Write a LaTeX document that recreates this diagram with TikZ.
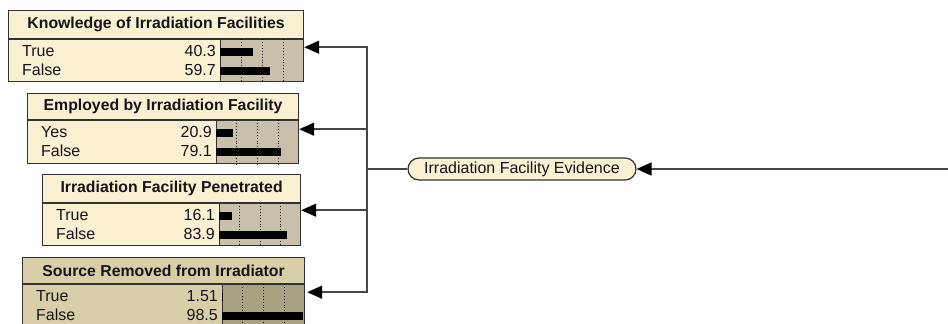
\documentclass[tikz,border=0pt]{standalone}
\usepackage{fontspec}
\setmainfont{Liberation Sans}
\usepackage{tikz}
\usepackage{xcolor}
\usetikzlibrary{arrows.meta,positioning,calc}

\definecolor{nodecream}{RGB}{250,240,210}
\definecolor{barbg}{RGB}{200,192,170}
\definecolor{findcream}{RGB}{216,207,168}
\definecolor{findbar}{RGB}{168,161,130}
\definecolor{boxline}{RGB}{50,50,50}
\definecolor{linkgray}{RGB}{70,70,70}
\definecolor{textdark}{RGB}{20,20,25}

\begin{document}
\begin{tikzpicture}[x=1pt, y=-1pt, >={Triangle[length=15pt,width=13pt,black]},
  ttl/.style={draw=boxline, line width=1.2pt, fill=nodecream, anchor=north west,
    inner sep=0pt, text=textdark, font=\fontsize{15.8}{18}\selectfont\bfseries},
  body/.style={draw=boxline, line width=1.2pt, fill=nodecream, anchor=north west,
    minimum height=42pt, inner sep=0pt},
  bars/.style={draw=boxline, line width=1.2pt, fill=barbg, anchor=north east,
    minimum height=42pt, inner sep=0pt},
  lbl/.style={anchor=west, inner sep=0pt, text height=11.5pt, text depth=0pt,
    text=textdark, font=\fontsize{16}{19}\selectfont},
  num/.style={lbl, anchor=east},
  grid/.style={dotted, line width=0.9pt, black},
  divider/.style={line width=2pt, boxline},
  link/.style={line width=1.5pt, linkgray},
  evid/.style={draw=boxline, line width=1.2pt, fill=nodecream, rounded corners=11pt,
    minimum width=228pt, minimum height=22pt, inner sep=0pt, text=textdark,
    font=\fontsize{16}{19}\selectfont}]

  \useasboundingbox (0,0) rectangle (948,324);
  \clip (0,0) rectangle (948,324);

  % Knowledge of Irradiation Facilities
  \node[ttl, minimum width=295pt, minimum height=28pt] (know) at (8,10) {Knowledge of Irradiation Facilities};
  \node[body, minimum width=295pt] (know-b) at (know.south west) {};
  \node[bars, minimum width=83pt] (know-s) at (know-b.north east) {};
  \draw[divider] (know.south west) -- (know.south east);
  \foreach \f in {0.25,0.5,0.75}
    \draw[grid] ($(know-s.north west)!\f!(know-s.north east)$) -- ($(know-s.south west)!\f!(know-s.south east)$);
  \fill ($(know-s.north west)+(0,8.5)$) rectangle ++(0.83*40.3,8.5);
  \fill ($(know-s.north west)+(0,27.5)$) rectangle ++(0.83*59.7,8.5);
  \node[lbl] (know-t) at ($(know-b.north west)+(14,12)$) {True};
  \node[lbl] (know-f) at ($(know-b.north west)+(14,31)$) {False};
  \node[num] (know-tv) at ($(know-s.north west)+(-4,12)$) {40.3};
  \node[num] (know-fv) at ($(know-s.north west)+(-4,31)$) {59.7};
  \coordinate (know-in) at ($(know-s.north east)+(0,8)$);

  % Employed by Irradiation Facility
  \node[ttl, minimum width=271pt, minimum height=26pt] (empl) at (27,93) {Employed by Irradiation Facility};
  \node[body, minimum width=271pt, minimum height=43pt] (empl-b) at (empl.south west) {};
  \node[bars, minimum width=82pt, minimum height=43pt] (empl-s) at (empl-b.north east) {};
  \draw[divider] (empl.south west) -- (empl.south east);
  \foreach \f in {0.25,0.5,0.75}
    \draw[grid] ($(empl-s.north west)!\f!(empl-s.north east)$) -- ($(empl-s.south west)!\f!(empl-s.south east)$);
  \fill ($(empl-s.north west)+(0,8.5)$) rectangle ++(0.82*20.9,8.5);
  \fill ($(empl-s.north west)+(0,27.5)$) rectangle ++(0.82*79.1,8.5);
  \node[lbl] (empl-t) at ($(empl-b.north west)+(14,12)$) {Yes};
  \node[lbl] (empl-f) at ($(empl-b.north west)+(14,31)$) {False};
  \node[num] (empl-tv) at ($(empl-s.north west)+(-4,12)$) {20.9};
  \node[num] (empl-fv) at ($(empl-s.north west)+(-4,31)$) {79.1};
  \coordinate (empl-in) at ($(empl-s.north east)+(0,9)$);

  % Irradiation Facility Penetrated
  \node[ttl, minimum width=258pt, minimum height=28pt] (pene) at (42,174) {Irradiation Facility Penetrated};
  \node[body, minimum width=258pt] (pene-b) at (pene.south west) {};
  \node[bars, minimum width=81pt] (pene-s) at (pene-b.north east) {};
  \draw[divider] (pene.south west) -- (pene.south east);
  \foreach \f in {0.25,0.5,0.75}
    \draw[grid] ($(pene-s.north west)!\f!(pene-s.north east)$) -- ($(pene-s.south west)!\f!(pene-s.south east)$);
  \fill ($(pene-s.north west)+(0,8.5)$) rectangle ++(0.81*16.1,8.5);
  \fill ($(pene-s.north west)+(0,27.5)$) rectangle ++(0.81*83.9,8.5);
  \node[lbl] (pene-t) at ($(pene-b.north west)+(14,12)$) {True};
  \node[lbl] (pene-f) at ($(pene-b.north west)+(14,31)$) {False};
  \node[num] (pene-tv) at ($(pene-s.north west)+(-4,12)$) {16.1};
  \node[num] (pene-fv) at ($(pene-s.north west)+(-4,31)$) {83.9};
  \coordinate (pene-in) at ($(pene-s.north east)+(0,7)$);

  % Source Removed from Irradiator (finding)
  \node[ttl, fill=findcream, minimum width=282pt, minimum height=26pt] (srem) at (22,257) {Source Removed from Irradiator};
  \node[body, fill=findcream, minimum width=282pt] (srem-b) at (srem.south west) {};
  \node[bars, fill=findbar, minimum width=82pt] (srem-s) at (srem-b.north east) {};
  \draw[divider] (srem.south west) -- (srem.south east);
  \foreach \f in {0.25,0.5,0.75}
    \draw[grid] ($(srem-s.north west)!\f!(srem-s.north east)$) -- ($(srem-s.south west)!\f!(srem-s.south east)$);
  \fill ($(srem-s.north west)+(0,8.5)$) rectangle ++(0.82*1.51,8.5);
  \fill ($(srem-s.north west)+(0,27.5)$) rectangle ++(0.82*98.5,8.5);
  \node[lbl] (srem-t) at ($(srem-b.north west)+(14,12)$) {True};
  \node[lbl] (srem-f) at ($(srem-b.north west)+(14,31)$) {False};
  \node[num] (srem-tv) at ($(srem-s.north west)+(-4,12)$) {1.51};
  \node[num] (srem-fv) at ($(srem-s.north west)+(-4,31)$) {98.5};
  \coordinate (srem-in) at ($(srem-s.north east)+(2,8)$);

  % evidence node and links
  \node[evid] (ev) at (522,169) {Irradiation Facility Evidence};
  \coordinate (jn) at (367,169);
  \coordinate (rin) at (948,169);
  \draw[link, ->] (rin) -- (ev.east);
  \draw[link] (ev.west) -- (jn);
  \draw[link, ->] (jn) |- (know-in);
  \draw[link, ->] (jn) |- (empl-in);
  \draw[link, ->] (jn) |- (pene-in);
  \draw[link, ->] (jn) |- (srem-in);
\end{tikzpicture}
\end{document}
